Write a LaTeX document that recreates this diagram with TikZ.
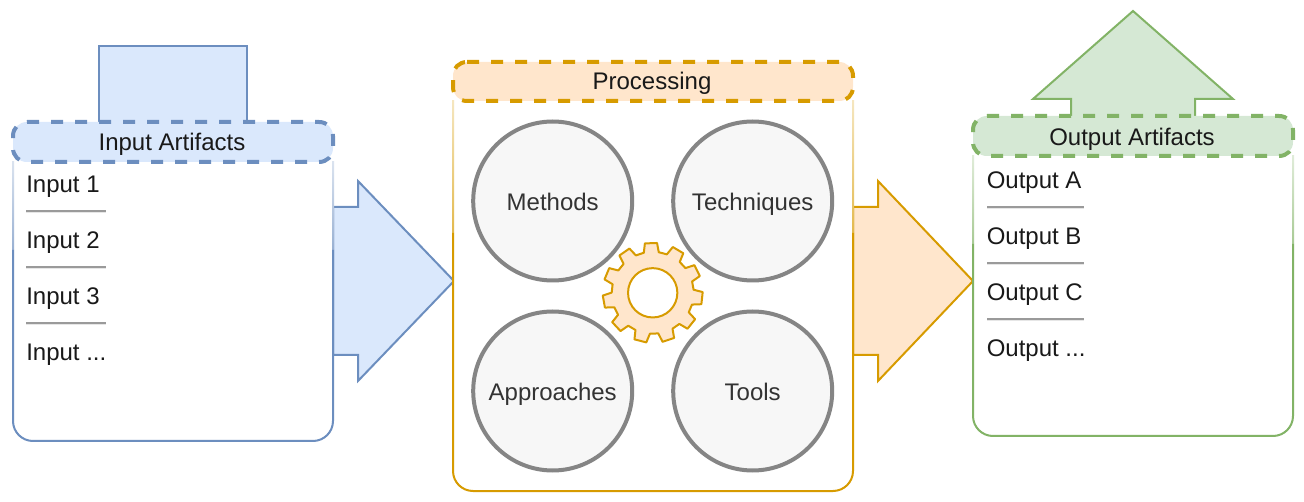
\documentclass[tikz,border=0pt]{standalone}
\usepackage{fontspec}
\setmainfont{Liberation Sans}
\definecolor{bluefill}{HTML}{DAE8FC}
\definecolor{bluedraw}{HTML}{6C8EBF}
\definecolor{orangefill}{HTML}{FFE6CC}
\definecolor{orangedraw}{HTML}{D79B00}
\definecolor{greenfill}{HTML}{D5E8D4}
\definecolor{greendraw}{HTML}{82B366}
\definecolor{grayfill}{HTML}{F7F7F7}
\definecolor{graydraw}{HTML}{858585}
\definecolor{graytext}{HTML}{333333}
\definecolor{rulelight}{HTML}{E6E6E6}
\definecolor{rulegray}{HTML}{9A9A9A}
\tikzset{
  x=0.75pt,y=-0.75pt,
  label text/.style={font=\fontsize{18}{21}\selectfont,inner sep=0pt,text=black!90},
  header text/.style={label text,anchor=base},
  item text/.style={label text,anchor=base west},
  tool circle/.style={circle,draw=graydraw,fill=grayfill,line width=3pt,minimum size=119.25pt,inner sep=0pt,
    font=\fontsize{18}{21}\selectfont,text=graytext,text height=14.8pt,text depth=0.5pt},
  header box/.style={line width=3pt,dash pattern=on 9pt off 9pt},
  flow shape/.style={line width=1.5pt,line join=miter},
}
% #1 fill #2 draw #3 x1 #4 x2 #5 header top #6 header bottom #7 fade end #8 bottom
\newcommand{\artifactbox}[8]{%
  \fill[white] (#3,#5) rectangle (#4,#8);
  \shade[top color=#2!25!white,bottom color=#2!70!white] (#3-1,#6) rectangle (#3+1,#7);
  \shade[top color=#2!25!white,bottom color=#2!70!white] (#4-1,#6) rectangle (#4+1,#7);
  \draw[#2,line width=1.5pt,rounded corners=15pt] (#3,#7) -- (#3,#8) -- (#4,#8) -- (#4,#7);
  \draw[draw=#2,fill=#1,header box]
    (#3+14,#5) -- (#4-14,#5) .. controls (#4-6,#5) and (#4,#5+6) .. (#4,#5+14)
    -- (#4,#6-14) .. controls (#4,#6-6) and (#4-6,#6) .. (#4-14,#6)
    -- (#3+14,#6) .. controls (#3+6,#6) and (#3,#6-6) .. (#3,#6-14)
    -- (#3,#5+14) .. controls (#3,#5+6) and (#3+6,#5) .. (#3+14,#5) -- cycle;
}
\newcommand{\itemrule}[3]{%
  \draw[rulelight,line width=1pt] (#1,#3+1.6) -- (#2,#3+1.6);
  \draw[rulegray,line width=1.2pt] (#1,#3) -- (#2,#3);
}
\begin{document}
\begin{tikzpicture}
\useasboundingbox (0,0) rectangle (1304,502);
% shapes behind the boxes
\draw[flow shape,draw=bluedraw,fill=bluefill] (99,122) -- (99,46) -- (247,46) -- (247,122);
\draw[flow shape,draw=bluedraw,fill=bluefill] (333,207) -- (358,207) -- (358,181) -- (454,281) -- (358,381) -- (358,355) -- (333,355) -- cycle;
\draw[flow shape,draw=orangedraw,fill=orangefill] (853,207) -- (878,207) -- (878,181) -- (973,281) -- (878,381) -- (878,355) -- (853,355) -- cycle;
\draw[flow shape,draw=greendraw,fill=greenfill] (1071,118) -- (1071,99) -- (1033,99) -- (1133,11) -- (1233,99) -- (1195,99) -- (1195,118);
% boxes
\artifactbox{bluefill}{bluedraw}{13}{333}{122}{162}{250}{441}
\artifactbox{orangefill}{orangedraw}{453}{853}{62}{101}{233}{491}
\artifactbox{greenfill}{greendraw}{973}{1293}{116}{156}{244}{436}
% header labels
\node[header text] (inhead) at (172,151) {Input Artifacts};
\node[header text] (prochead) at (652,90) {Processing};
\node[header text] (outhead) at (1132,146) {Output Artifacts};
% input list
\node[item text] (in1) at (26,193) {Input 1};
\node[item text] (in2) at (26,249) {Input 2};
\node[item text] (in3) at (26,305) {Input 3};
\node[item text] (in4) at (26,361) {Input ...};
\itemrule{26}{106}{211}
\itemrule{26}{106}{267}
\itemrule{26}{106}{323}
% output list
\node[item text] (out1) at (986.5,189) {Output A};
\node[item text] (out2) at (986.5,245) {Output B};
\node[item text] (out3) at (986.5,301) {Output C};
\node[item text] (out4) at (986.5,357) {Output ...};
\itemrule{987}{1084}{207}
\itemrule{987}{1084}{263}
\itemrule{987}{1084}{319}
% circles
\node[tool circle] (methods) at (552.7,201) {Methods};
\node[tool circle] (techniques) at (752.7,201) {Techniques};
\node[tool circle] (approaches) at (552.7,391) {Approaches};
\node[tool circle] (tools) at (752.7,391) {Tools};
% gear
\begin{scope}[shift={(652.7,292.8)}]
\draw[draw=orangedraw,fill=orangefill,line width=1.5pt,line join=round]
  ({-92+10.5}:41)
  \foreach \i in {0,...,10} {
    -- ({-(92+\i*32.727)+10.5}:41) -- ({-(92+\i*32.727)+7}:50)
    -- ({-(92+\i*32.727)-7}:50) -- ({-(92+\i*32.727)-10.5}:41)
  } -- cycle;
\draw[draw=orangedraw,fill=white,line width=1.5pt] (0,0) circle[radius=18.5pt];
\end{scope}
\end{tikzpicture}
\end{document}
